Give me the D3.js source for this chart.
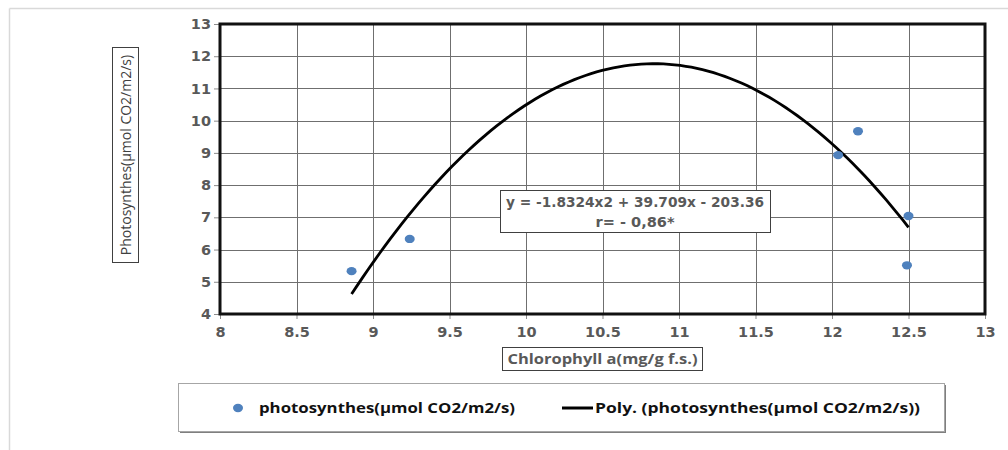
<!DOCTYPE html>
<html>
<head>
<meta charset="utf-8">
<script src="https://cdn.jsdelivr.net/npm/d3@7"></script>
<style>
  html, body { margin: 0; padding: 0; background: #fff; }
  svg { display: block; }
</style>
</head>
<body>
<svg id="chart" width="1008" height="450"></svg>
<script>
// ---- Data ----
const chlorophyllA = [8.86, 9.24, 12.04, 12.17, 12.50, 12.49];
const photosynthesis = [5.33, 6.33, 8.93, 9.67, 7.04, 5.51];
const trendCoefficients = [-1.8324, 39.709, -203.36]; // y = a x^2 + b x + c (from the chart's equation)
const xTickValues = [8, 8.5, 9, 9.5, 10, 10.5, 11, 11.5, 12, 12.5, 13];
const yTickValues = [4, 5, 6, 7, 8, 9, 10, 11, 12, 13];
const xAxisTitle = "Chlorophyll a(mg/g f.s.)";
const yAxisTitle = "Photosynthes(µmol CO2/m2/s)";
const equationLines = ["y = -1.8324x2 + 39.709x - 203.36", "r= - 0,86*"];
const legendLabels = ["photosynthes(µmol CO2/m2/s)", "Poly. (photosynthes(µmol CO2/m2/s))"];

// ---- Layout ----
const svg = d3.select("#chart");
const plot = { left: 220, top: 24, right: 985, bottom: 314 };
const x = d3.scaleLinear().domain([8, 13]).range([plot.left, plot.right]);
const y = d3.scaleLinear().domain([4, 13]).range([plot.bottom, plot.top]);

const labelColor = "#595959";
const pointColor = "#4F81BD";

// outer chart frame (light grey)
svg.append("line").attr("x1", 9.5).attr("x2", 1008).attr("y1", 8.5).attr("y2", 8.5)
  .attr("stroke", "#d9d9d9").attr("stroke-width", 1.5);
svg.append("line").attr("x1", 9.5).attr("x2", 9.5).attr("y1", 8.5).attr("y2", 450)
  .attr("stroke", "#d9d9d9").attr("stroke-width", 1.5);

// gridlines
const grid = svg.append("g");
grid.selectAll("line.v").data(xTickValues).join("line")
  .attr("x1", d => Math.round(x(d)) + 0.5).attr("x2", d => Math.round(x(d)) + 0.5)
  .attr("y1", plot.top).attr("y2", plot.bottom)
  .attr("stroke", "#6f6f6f").attr("stroke-width", 1);
grid.selectAll("line.h").data(yTickValues).join("line")
  .attr("y1", d => Math.round(y(d)) + 0.5).attr("y2", d => Math.round(y(d)) + 0.5)
  .attr("x1", plot.left).attr("x2", plot.right)
  .attr("stroke", "#6f6f6f").attr("stroke-width", 1);

// axes
const xAxis = d3.axisBottom(x).tickValues(xTickValues).tickSize(5).tickPadding(8)
  .tickFormat(d => String(d));
const yAxis = d3.axisLeft(y).tickValues(yTickValues).tickSize(6).tickPadding(3)
  .tickFormat(d => String(d));

const gx = svg.append("g").attr("transform", `translate(0,${plot.bottom})`).call(xAxis);
const gy = svg.append("g").attr("transform", `translate(${plot.left},0)`).call(yAxis);
[gx, gy].forEach(g => {
  g.select(".domain").remove();
  g.selectAll(".tick line").attr("stroke", "#8c8c8c");
  g.selectAll(".tick text")
    .attr("fill", labelColor)
    .style("font-family", "'DejaVu Sans', Verdana, sans-serif")
    .style("font-weight", "bold")
    .style("font-size", "14.5px");
});

// plot border
svg.append("rect")
  .attr("x", plot.left).attr("y", plot.top)
  .attr("width", plot.right - plot.left).attr("height", plot.bottom - plot.top)
  .attr("fill", "none").attr("stroke", "#111").attr("stroke-width", 3);

// trend line (polynomial from the chart's equation, over the data range)
const [ca, cb, cc] = trendCoefficients;
const xMin = d3.min(chlorophyllA), xMax = d3.max(chlorophyllA);
const trendX = d3.range(0, 101).map(i => xMin + (xMax - xMin) * i / 100);
const line = d3.line().x(d => x(d)).y(d => y(ca * d * d + cb * d + cc)).curve(d3.curveLinear);
svg.append("path").datum(trendX).attr("d", line)
  .attr("fill", "none").attr("stroke", "#000").attr("stroke-width", 2.8);

// points
svg.append("g").selectAll("ellipse").data(d3.zip(chlorophyllA, photosynthesis)).join("ellipse")
  .attr("cx", d => x(d[0])).attr("cy", d => y(d[1]))
  .attr("rx", 5).attr("ry", 4.2)
  .attr("fill", pointColor);

// equation box
const eq = svg.append("g");
eq.append("rect").attr("x", 500.5).attr("y", 190.5).attr("width", 270).attr("height", 42)
  .attr("fill", "#fff").attr("stroke", "#404040").attr("stroke-width", 1);
eq.selectAll("text").data(equationLines).join("text")
  .attr("x", 635).attr("y", (d, i) => 207 + i * 20)
  .attr("text-anchor", "middle")
  .attr("fill", labelColor)
  .attr("textLength", (d, i) => i === 0 ? 258 : 79)
  .attr("lengthAdjust", "spacingAndGlyphs")
  .style("font-family", "'DejaVu Sans', Verdana, sans-serif")
  .style("font-weight", "bold")
  .style("font-size", "13.5px")
  .text(d => d);

// x axis title box
const xt = svg.append("g");
xt.append("rect").attr("x", 502.5).attr("y", 347.5).attr("width", 200).attr("height", 23)
  .attr("fill", "#fff").attr("stroke", "#404040").attr("stroke-width", 1);
xt.append("text").attr("x", 602.5).attr("y", 364)
  .attr("text-anchor", "middle").attr("fill", labelColor)
  .attr("textLength", 190).attr("lengthAdjust", "spacingAndGlyphs")
  .style("font-family", "'Open Sans', sans-serif").style("font-weight", "bold")
  .style("font-size", "14.5px")
  .text(xAxisTitle);

// y axis title box
const yt = svg.append("g");
yt.append("rect").attr("x", 112.5).attr("y", 47.5).attr("width", 26).attr("height", 215)
  .attr("fill", "#fff").attr("stroke", "#404040").attr("stroke-width", 1);
yt.append("text")
  .attr("transform", "translate(131,155) rotate(-90)")
  .attr("text-anchor", "middle").attr("fill", "#404040")
  .style("font-family", "'Open Sans', sans-serif")
  .style("font-size", "14px")
  .text(yAxisTitle);

// legend
const lg = svg.append("g");
lg.append("rect").attr("x", 180).attr("y", 385).attr("width", 766).attr("height", 48)
  .attr("fill", "#7f7f7f");
lg.append("rect").attr("x", 178.5).attr("y", 383.5).attr("width", 766).attr("height", 48)
  .attr("fill", "#fff").attr("stroke", "#a6a6a6").attr("stroke-width", 1);
lg.append("ellipse").attr("cx", 238).attr("cy", 408).attr("rx", 5).attr("ry", 4.2)
  .attr("fill", pointColor);
lg.append("line").attr("x1", 562).attr("x2", 593).attr("y1", 408).attr("y2", 408)
  .attr("stroke", "#000").attr("stroke-width", 3);
lg.selectAll("text").data(legendLabels).join("text")
  .attr("x", (d, i) => i === 0 ? 259 : 595)
  .attr("y", 413)
  .attr("fill", "#111")
  .attr("textLength", (d, i) => i === 0 ? 256 : 325)
  .attr("lengthAdjust", "spacingAndGlyphs")
  .style("font-family", "'Open Sans', sans-serif")
  .style("font-weight", "bold")
  .style("font-size", "15px")
  .text(d => d);
</script>
</body>
</html>
